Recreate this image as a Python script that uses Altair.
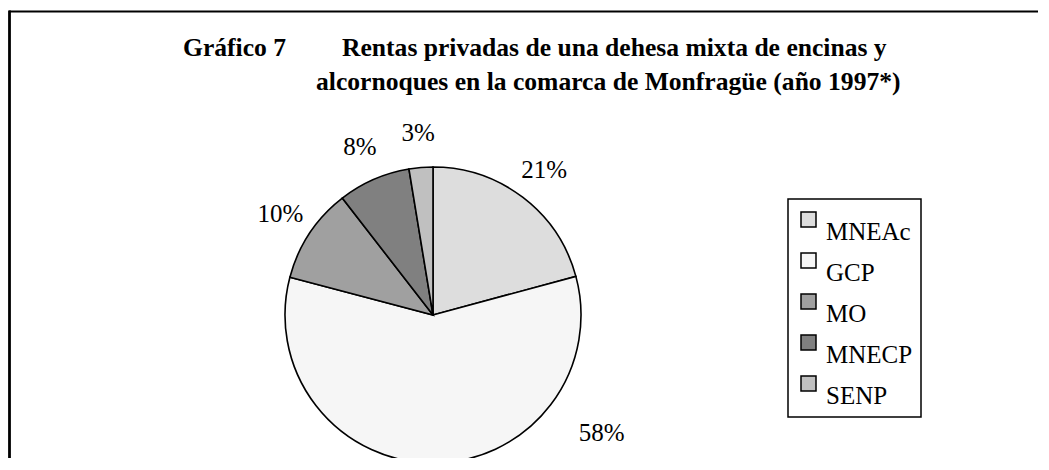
import altair as alt
import pandas as pd

categories = ["MNEAc", "GCP", "MO", "MNECP", "SENP"]
values = [20.8, 58.3, 10.4, 7.9, 2.6]
labels = ["21%", "58%", "10%", "8%", "3%"]
colors = ["#dddddd", "#f6f6f6", "#a0a0a0", "#808080", "#c0c0c0"]
title_head = "Gráfico 7"
title_lines = ["Rentas privadas de una dehesa mixta de encinas y",
               "alcornoques en la comarca de Monfragüe (año 1997*)"]

FONT = "Liberation Serif"
CX, CY, R = 425, 307, 148
TFS = 25.6

df = pd.DataFrame({"category": categories, "value": values, "label": labels,
                   "order": list(range(len(categories)))})

base = alt.Chart(df).encode(
    theta=alt.Theta("value:Q", stack=True),
    order=alt.Order("order:Q"),
    x=alt.value(CX), y=alt.value(CY),
)

pie = base.mark_arc(outerRadius=R, stroke="black", strokeWidth=1.6).encode(
    color=alt.Color("category:N",
                    scale=alt.Scale(domain=categories, range=colors),
                    legend=alt.Legend(title=None)),
)

lab_main = base.mark_text(radius=183, font=FONT, fontSize=25,
                          align="center", baseline="middle", color="black").encode(
    text=alt.condition("datum.category != 'GCP'", alt.Text("label:N"), alt.value(""))
)
lab_big = base.mark_text(radius=206, thetaOffset=-0.956, font=FONT, fontSize=25,
                         align="center", baseline="middle", color="black").encode(
    text=alt.condition("datum.category == 'GCP'", alt.Text("label:N"), alt.value(""))
)

one = pd.DataFrame({"k": [0]})
t_head = alt.Chart(one).mark_text(font=FONT, fontSize=TFS, fontWeight="bold",
                                  align="left", baseline="alphabetic").encode(
    x=alt.value(175), y=alt.value(48), text=alt.value(title_head))
t_l1 = alt.Chart(one).mark_text(font=FONT, fontSize=TFS, fontWeight="bold",
                                align="left", baseline="alphabetic").encode(
    x=alt.value(334), y=alt.value(48), text=alt.value(title_lines[0]))
t_l2 = alt.Chart(one).mark_text(font=FONT, fontSize=TFS, fontWeight="bold",
                                align="left", baseline="alphabetic").encode(
    x=alt.value(308), y=alt.value(82), text=alt.value(title_lines[1]))

border_top = alt.Chart(one).mark_rule(color="black", strokeWidth=2.2).encode(
    x=alt.value(1), x2=alt.value(1041), y=alt.value(3.5))
border_left = alt.Chart(one).mark_rule(color="black", strokeWidth=2.8).encode(
    x=alt.value(1.5), y=alt.value(2.5), y2=alt.value(470))

chart = alt.layer(border_top, border_left, t_head, t_l1, t_l2, pie, lab_main, lab_big).properties(
    width=1030, height=450,
    autosize=alt.AutoSizeParams(type="none"),
    padding=0,
    background="white",
).configure_view(stroke=None).configure_legend(
    orient="none", legendX=780, legendY=191,
    strokeColor="black", strokeWidth=1.5, fillColor="white",
    padding=8, labelFont=FONT, labelFontSize=25, labelColor="black",
    labelBaseline="top", labelOffset=5, labelLimit=0,
    symbolType="square", symbolSize=225, symbolStrokeColor="black",
    symbolStrokeWidth=1.5, symbolOpacity=1, rowPadding=3,
)

chart.save("out.html", embed_options={"renderer": "svg", "actions": False})
